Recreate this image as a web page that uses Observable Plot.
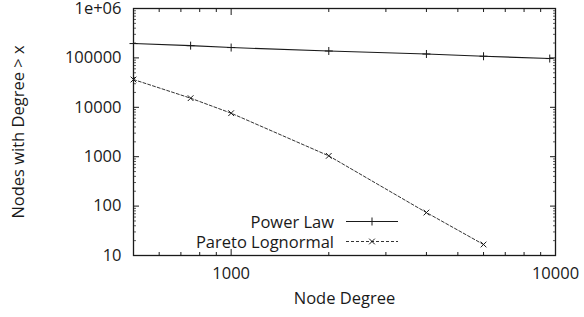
<!DOCTYPE html>
<html>
<head>
<meta charset="utf-8">
<script src="https://cdn.jsdelivr.net/npm/d3@7"></script>
<script src="https://cdn.jsdelivr.net/npm/@observablehq/plot@0.6"></script>
<style>
  html, body { margin: 0; padding: 0; background: white; }
  #chart { width: 584px; height: 317px; }
</style>
</head>
<body>
<div id="chart"></div>
<script>
// Data
const powerDegree = [500, 750, 1000, 2000, 4000, 6000, 9600];
const powerCount = [195000, 177000, 162000, 138000, 120000, 108000, 97000];
const paretoDegree = [500, 750, 1000, 2000, 4000, 6000];
const paretoCount = [36500, 15300, 7600, 1040, 74, 16.7];

const xMajorTicks = [1000, 10000];
const xMinorTicks = [600, 700, 800, 900, 2000, 3000, 4000, 5000, 6000, 7000, 8000, 9000];
const yMajorTicks = [10, 100, 1000, 10000, 100000, 1000000];
const yTickLabels = ["10", "100", "1000", "10000", "100000", "1e+06"];
const yMinorTicks = [];
for (const d of [10, 100, 1000, 10000, 100000]) for (const m of [2,3,4,5,6,7,8,9]) yMinorTicks.push(d * m);

const seriesNames = ["Power Law", "Pareto Lognormal"];

const power = powerDegree.map((x, i) => ({x, y: powerCount[i]}));
const pareto = paretoDegree.map((x, i) => ({x, y: paretoCount[i]}));

const ink = "#1a1a1a";
const fontFamily = "'Open Sans', sans-serif";

const blank = () => "";

const plot = Plot.plot({
  width: 584,
  height: 317,
  marginLeft: 133,
  marginRight: 29,
  marginTop: 8,
  marginBottom: 62,
  x: {type: "log", domain: [500, 10000], label: null},
  y: {type: "log", domain: [10, 1e6], label: null},
  style: {fontFamily, fontSize: "16.5px", color: ink, background: "white", overflow: "visible"},
  marks: [
    // tick labels
    Plot.axisX(xMajorTicks, {anchor: "bottom", tickSize: 0, tickPadding: 12, tickFormat: d3.format("d"), label: null}),
    Plot.axisY(yMajorTicks, {anchor: "left", tickSize: 0, tickPadding: 12, tickFormat: d => yTickLabels[yMajorTicks.indexOf(d)], label: null}),
    // inward major ticks
    Plot.axisX(xMajorTicks, {anchor: "bottom", tickSize: 6, dy: -6, tickFormat: blank, label: null}),
    Plot.axisX(xMajorTicks, {anchor: "top", tickSize: 6, dy: 6, tickFormat: blank, label: null}),
    Plot.axisY(yMajorTicks, {anchor: "left", tickSize: 6, dx: 6, tickFormat: blank, label: null}),
    Plot.axisY(yMajorTicks, {anchor: "right", tickSize: 6, dx: -6, tickFormat: blank, label: null}),
    // inward minor ticks
    Plot.axisX(xMinorTicks, {anchor: "bottom", tickSize: 3, dy: -3, tickFormat: blank, label: null}),
    Plot.axisX(xMinorTicks, {anchor: "top", tickSize: 3, dy: 3, tickFormat: blank, label: null}),
    Plot.axisY(yMinorTicks, {anchor: "left", tickSize: 3, dx: 3, tickFormat: blank, label: null, strokeOpacity: 0.7}),
    Plot.axisY(yMinorTicks, {anchor: "right", tickSize: 3, dx: -3, tickFormat: blank, label: null, strokeOpacity: 0.7}),
    // series
    Plot.line(power, {x: "x", y: "y", stroke: ink, strokeWidth: 1.1}),
    Plot.dot(power, {x: "x", y: "y", symbol: "plus", r: 2.7, stroke: ink, strokeWidth: 1}),
    Plot.line(pareto, {x: "x", y: "y", stroke: "#333", strokeWidth: 1, strokeDasharray: "3,2"}),
    Plot.dot(pareto, {x: "x", y: "y", symbol: "times", r: 2.7, stroke: ink, strokeWidth: 1}),
    // frame
    Plot.frame({stroke: ink, strokeWidth: 1.3}),
    // axis titles
    Plot.text(["Node Degree"], {frameAnchor: "bottom", dy: 48, fill: ink}),
    Plot.text(["Nodes with Degree > x"], {frameAnchor: "left", textAnchor: "middle", rotate: -90, dx: -115, fill: ink})
  ]
});

document.getElementById("chart").appendChild(plot);

// Legend (inside the plot, bottom-left area)
const svg = d3.select(plot);
const legend = svg.append("g").attr("font-family", fontFamily).attr("font-size", 16.5);
const legendRows = [
  {name: seriesNames[0], y: 221.5, dash: null, symbol: d3.symbolPlus, stroke: ink},
  {name: seriesNames[1], y: 241.5, dash: "3,2", symbol: d3.symbolTimes, stroke: "#333"}
];
for (const row of legendRows) {
  legend.append("text").attr("x", 334).attr("y", row.y).attr("text-anchor", "end")
    .attr("dominant-baseline", "central").attr("fill", ink).text(row.name);
  legend.append("line").attr("x1", 346).attr("x2", 398).attr("y1", row.y).attr("y2", row.y)
    .attr("stroke", row.stroke).attr("stroke-width", 1).attr("stroke-dasharray", row.dash);
  legend.append("path").attr("transform", `translate(372,${row.y})`)
    .attr("d", d3.symbol(row.symbol, Math.PI * 2.7 * 2.7)())
    .attr("fill", "none").attr("stroke", ink).attr("stroke-width", 1);
}
</script>
</body>
</html>
